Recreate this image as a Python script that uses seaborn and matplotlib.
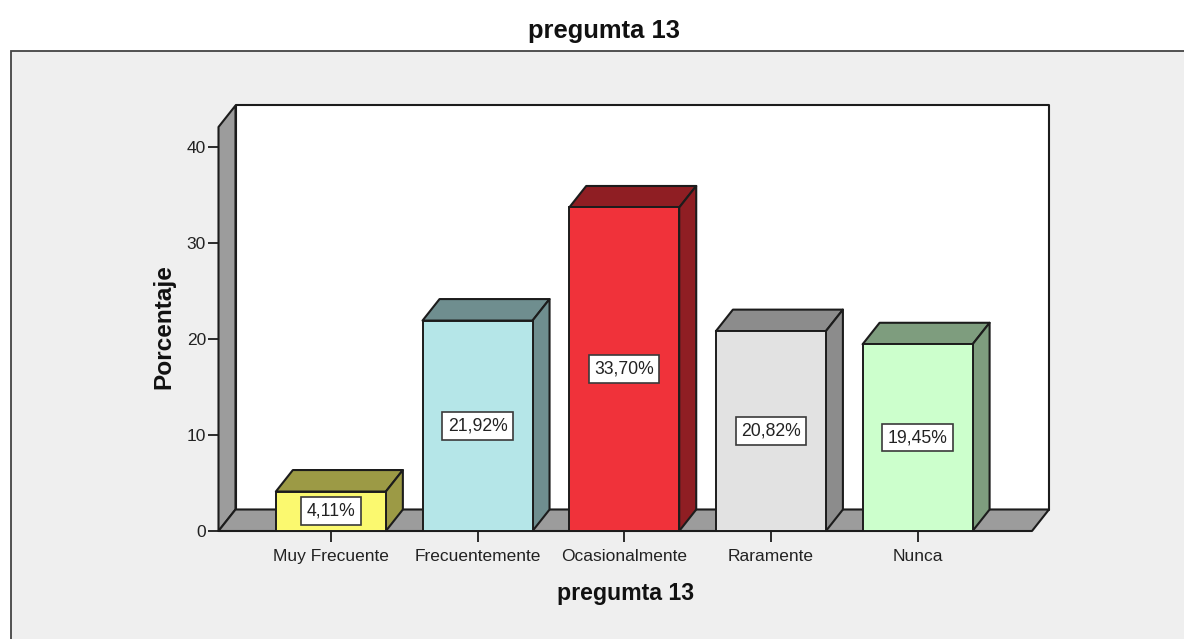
import matplotlib
matplotlib.use("Agg")
import matplotlib.pyplot as plt
from matplotlib.patches import Polygon, Rectangle
import pandas as pd
import seaborn as sns

categories = ["Muy Frecuente", "Frecuentemente", "Ocasionalmente", "Raramente", "Nunca"]
values = [4.11, 21.92, 33.70, 20.82, 19.45]
labels = ["4,11%", "21,92%", "33,70%", "20,82%", "19,45%"]
front_colors = ["#FBF96F", "#B5E6E8", "#F0323A", "#E2E2E2", "#CCFFCC"]
top_colors = ["#9C9A45", "#6F8E8F", "#8F1E23", "#8C8C8C", "#7E9D7E"]
y_ticks = [0, 10, 20, 30, 40]

W, H = 1184, 639
BG = "#EFEFEF"
INK = "#222222"
LINE = "#1C1C1C"
sns.set_theme(style="white")
plt.rcParams["font.family"] = ["Liberation Sans", "DejaVu Sans"]

fig = plt.figure(figsize=(W / 100, H / 100), dpi=100, facecolor="white")
fig.add_artist(Rectangle((11 / W, -0.01), 1.01, (H - 51) / H + 0.01, transform=fig.transFigure,
                         facecolor=BG, edgecolor="#444444", linewidth=1.3, zorder=-5))

left, right, bottom, top = 218.5, 1032, 531, 127
ax = fig.add_axes([left / W, 1 - bottom / H, (right - left) / W, (bottom - top) / H])
ax.patch.set_alpha(0)

df = pd.DataFrame({"cat": categories, "val": values})
sns.barplot(data=df, x="cat", y="val", hue="cat", order=categories, hue_order=categories,
            palette=front_colors, width=0.75, legend=False, ax=ax, zorder=5,
            edgecolor=LINE, linewidth=1.4, saturation=1)

ax.set_xlim(-0.766, 4.78)
ax.set_ylim(0, (bottom - top) / 9.6)
x0, x1 = ax.get_xlim()
y0, y1 = ax.get_ylim()
px_x = (right - left) / (x1 - x0)
px_y = (bottom - top) / (y1 - y0)
dx, dy = 17 / px_x, 21.5 / px_y


def poly(pts, color, z):
    ax.add_patch(Polygon(pts, closed=True, facecolor=color, edgecolor=LINE, linewidth=1.5,
                         joinstyle="round", zorder=z, clip_on=False))


WALL = "#9C9C9C"
poly([(x0 + dx, y0 + dy), (x1 + dx, y0 + dy), (x1 + dx, y1 + dy), (x0 + dx, y1 + dy)], "white", 1)
poly([(x0, y0), (x0 + dx, y0 + dy), (x0 + dx, y1 + dy), (x0, y1)], WALL, 2)
poly([(x0, y0), (x1, y0), (x1 + dx, y0 + dy), (x0 + dx, y0 + dy)], WALL, 2)

for bar, side, text in zip(ax.patches[:len(categories)], top_colors, labels):
    a, b = bar.get_x(), bar.get_x() + bar.get_width()
    h = bar.get_height()
    poly([(a, h), (b, h), (b + dx, h + dy), (a + dx, h + dy)], side, 4)
    poly([(b, 0), (b + dx, dy), (b + dx, h + dy), (b, h)], side, 4)
    bar.set_clip_on(False)
    ax.text((a + b) / 2, h / 2, text, ha="center", va="center", fontsize=12.7, color=INK, zorder=7,
            bbox=dict(boxstyle="square,pad=0.3", facecolor="white", edgecolor="#3A3A3A", linewidth=1.2))

for name in ("left", "bottom", "top", "right"):
    ax.spines[name].set_visible(False)

ax.set_yticks(y_ticks)
ax.set_xticks(range(len(categories)))
ax.set_xticklabels(categories)
ax.tick_params(axis="x", length=8, width=1.3, color=LINE, labelsize=12.5, labelcolor=INK, pad=5, bottom=True)
ax.tick_params(axis="y", length=8, width=1.3, color=LINE, labelsize=12.5, labelcolor=INK, pad=1, left=True)

ax.set_xlabel("pregumta 13", fontsize=16.7, fontweight="bold", color="#111111", labelpad=13)
ax.set_ylabel("Porcentaje", fontsize=17.6, fontweight="bold", color="#111111", labelpad=8, y=0.505)
fig.text(603.5 / W, 1 - 31 / H, "pregumta 13", ha="center", va="center", fontsize=18.4,
         fontweight="bold", color="#111111")

fig.savefig("out.png", dpi=100, facecolor="white")
